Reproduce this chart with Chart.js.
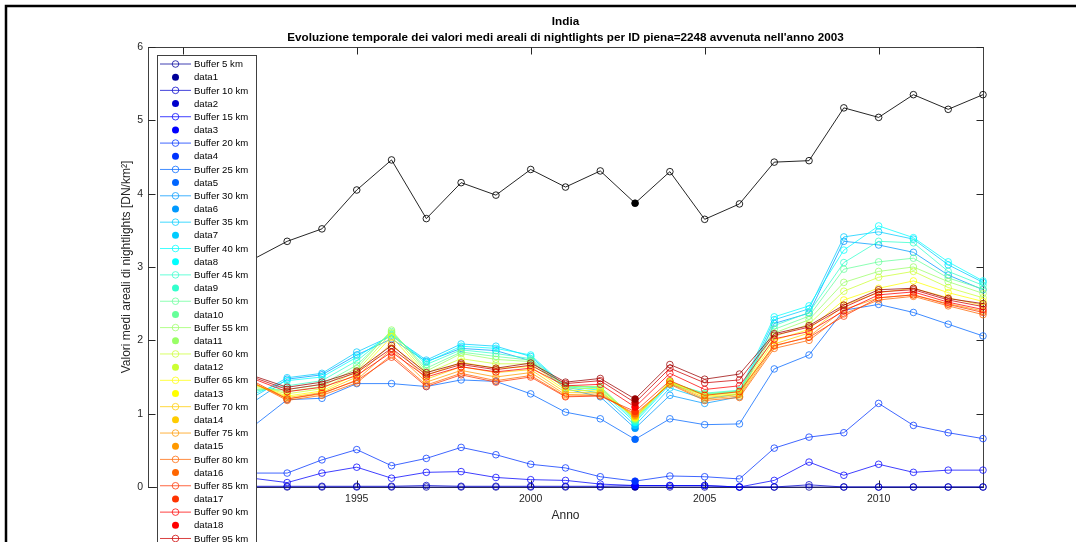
<!DOCTYPE html>
<html>
<head>
<meta charset="utf-8">
<title>India - nightlights</title>
<script src="https://cdn.jsdelivr.net/npm/chart.js@4.4.0/dist/chart.umd.min.js"></script>
<style>
  html, body { margin: 0; padding: 0; background: #fff; }
  #grafico { display: block; }
</style>
</head>
<body>
<canvas id="grafico" width="1076" height="542"></canvas>
<script>
// anni della serie e tick dell'asse x
const anni = [1992, 1993, 1994, 1995, 1996, 1997, 1998, 1999, 2000, 2001, 2002,
              2003, 2004, 2005, 2006, 2007, 2008, 2009, 2010, 2011, 2012, 2013];
const tickAnni = [1990, 1995, 2000, 2005, 2010];
const tickValori = [0, 1, 2, 3, 4, 5, 6];
const annoPiena = 2003;

// valori medi areali per buffer (DN/km2)
const buffer = [5, 10, 15, 20, 25, 30, 35, 40, 45, 50, 55, 60, 65, 70, 75, 80, 85, 90, 95, 100];
const buf5   = [0,0,0,0,0,0,0,0,0,0,0,0,0,0,0,0,0,0,0,0,0,0];
const buf10  = [0.01,0.01,0.01,0.01,0.01,0.02,0.01,0.01,0.01,0.01,0.01,0.02,0.02,0.02,0.00,0.00,0.03,0.00,0.00,0.00,0.00,0.00];
const buf15  = [0.12,0.06,0.19,0.27,0.12,0.20,0.21,0.13,0.10,0.09,0.04,0.02,0.02,0.02,0.00,0.09,0.34,0.16,0.31,0.20,0.23,0.23];
const buf20  = [0.19,0.19,0.37,0.51,0.29,0.39,0.54,0.44,0.31,0.26,0.14,0.08,0.15,0.14,0.11,0.53,0.68,0.74,1.14,0.84,0.74,0.66];
const buf25  = [0.82,1.19,1.21,1.41,1.41,1.37,1.46,1.44,1.27,1.02,0.93,0.65,0.93,0.85,0.86,1.61,1.80,2.41,2.49,2.38,2.22,2.06];
const buf30  = [1.15,1.47,1.53,1.80,2.02,1.71,1.89,1.86,1.72,1.34,1.23,0.80,1.25,1.14,1.23,2.23,2.37,3.35,3.30,3.20,2.89,2.69];
const buf35  = [1.22,1.49,1.55,1.84,2.06,1.73,1.95,1.92,1.78,1.36,1.28,0.84,1.35,1.20,1.27,2.28,2.43,3.41,3.48,3.38,3.03,2.79];
const buf40  = [1.26,1.45,1.50,1.77,2.08,1.70,1.92,1.89,1.80,1.37,1.32,0.88,1.40,1.26,1.31,2.32,2.47,3.23,3.56,3.40,3.07,2.81];
const buf45  = [1.30,1.38,1.45,1.72,2.10,1.67,1.87,1.82,1.75,1.38,1.35,0.90,1.42,1.28,1.32,2.20,2.38,3.06,3.35,3.33,2.94,2.75];
const buf50  = [1.33,1.33,1.40,1.66,2.12,1.62,1.84,1.78,1.73,1.38,1.36,0.92,1.43,1.27,1.31,2.15,2.33,2.97,3.07,3.12,2.85,2.70];
const buf55  = [1.36,1.30,1.37,1.62,2.14,1.58,1.82,1.74,1.71,1.37,1.37,0.93,1.44,1.26,1.30,2.10,2.28,2.79,2.94,3.00,2.80,2.64];
const buf60  = [1.39,1.27,1.34,1.58,2.10,1.55,1.75,1.68,1.68,1.35,1.34,0.94,1.44,1.25,1.29,2.05,2.22,2.67,2.86,2.94,2.72,2.58];
const buf65  = [1.41,1.24,1.31,1.54,2.05,1.52,1.70,1.62,1.64,1.32,1.31,0.95,1.43,1.24,1.27,2.00,2.15,2.55,2.71,2.81,2.65,2.53];
const buf70  = [1.42,1.22,1.29,1.50,1.96,1.47,1.64,1.56,1.60,1.29,1.29,0.96,1.42,1.22,1.26,1.95,2.10,2.48,2.65,2.71,2.58,2.48];
const buf75  = [1.42,1.20,1.27,1.46,1.88,1.43,1.59,1.50,1.56,1.26,1.27,0.98,1.41,1.20,1.24,1.92,2.05,2.42,2.58,2.62,2.50,2.40];
const buf80  = [1.43,1.18,1.25,1.42,1.80,1.39,1.55,1.45,1.52,1.24,1.25,1.00,1.40,1.18,1.22,1.89,2.00,2.36,2.55,2.60,2.47,2.35];
const buf85  = [1.45,1.20,1.28,1.45,1.77,1.37,1.53,1.43,1.50,1.23,1.24,1.03,1.45,1.25,1.30,1.93,2.04,2.33,2.58,2.62,2.49,2.38];
const buf90  = [1.48,1.30,1.36,1.52,1.84,1.50,1.64,1.57,1.62,1.38,1.40,1.09,1.55,1.33,1.38,2.02,2.12,2.40,2.62,2.66,2.52,2.42];
const buf95  = [1.50,1.33,1.40,1.56,1.89,1.53,1.67,1.60,1.66,1.41,1.45,1.15,1.62,1.42,1.46,2.07,2.18,2.45,2.66,2.69,2.55,2.46];
const buf100 = [1.52,1.36,1.43,1.58,1.93,1.56,1.69,1.62,1.69,1.43,1.48,1.20,1.67,1.47,1.54,2.09,2.20,2.48,2.69,2.71,2.57,2.50];
// area della piena
const areaPiena = [3.10,3.35,3.52,4.05,4.46,3.66,4.15,3.98,4.33,4.09,4.31,3.87,4.30,3.65,3.86,4.43,4.45,5.17,5.04,5.35,5.15,5.35];

const serieBuffer = [buf5, buf10, buf15, buf20, buf25, buf30, buf35, buf40, buf45, buf50,
                     buf55, buf60, buf65, buf70, buf75, buf80, buf85, buf90, buf95, buf100];

// colormap jet(20) come in MATLAB
const jet20 = [
  [0,0,.6],[0,0,.8],[0,0,1],[0,.2,1],[0,.4,1],[0,.6,1],[0,.8,1],[0,1,1],[.2,1,.8],[.4,1,.6],
  [.6,1,.4],[.8,1,.2],[1,1,0],[1,.8,0],[1,.6,0],[1,.4,0],[1,.2,0],[1,0,0],[.8,0,0],[.6,0,0]
];
function rgba(c, a) {
  return `rgba(${Math.round(c[0]*255)},${Math.round(c[1]*255)},${Math.round(c[2]*255)},${a})`;
}

const iPiena = anni.indexOf(annoPiena);

function linea(label, valori, col, alfa) {
  return {
    label: label,
    data: anni.map((a, i) => ({ x: a, y: valori[i] })),
    borderColor: rgba(col, alfa),
    backgroundColor: 'rgba(0,0,0,0)',
    pointBorderColor: rgba(col, alfa),
    pointBackgroundColor: 'rgba(0,0,0,0)',
    borderWidth: 1,
    pointRadius: 3.3,
    pointBorderWidth: 1,
    showLine: true,
    tension: 0,
    clip: false
  };
}
function puntoPiena(label, valori, col) {
  return {
    label: label,
    data: [{ x: annoPiena, y: valori[iPiena] }],
    borderColor: rgba(col, 1),
    backgroundColor: rgba(col, 1),
    pointBorderColor: rgba(col, 1),
    pointBackgroundColor: rgba(col, 1),
    pointRadius: 3.5,
    pointBorderWidth: 0,
    showLine: false,
    clip: false
  };
}

const datasets = [];
serieBuffer.forEach((valori, k) => {
  datasets.push(linea(`Buffer ${buffer[k]} km`, valori, jet20[k], 0.75));
  datasets.push(puntoPiena(`data${k + 1}`, valori, jet20[k]));
});
datasets.push(linea('Area piena', areaPiena, [0, 0, 0], 0.85));
datasets.push(puntoPiena(`data${buffer.length + 1}`, areaPiena, [0, 0, 0]));
// le serie disegnate dopo stanno sopra
datasets.forEach((d, i) => { d.order = datasets.length - i; });

// cornice, box degli assi con tick interni e legenda sopra il grafico
const stileMatlab = {
  id: 'stileMatlab',
  beforeDraw(chart) {
    const ctx = chart.ctx;
    ctx.save();
    ctx.fillStyle = '#fff';
    ctx.fillRect(0, 0, chart.width, chart.height);
    ctx.strokeStyle = '#000';
    ctx.lineWidth = 2.5;
    ctx.beginPath();
    ctx.moveTo(6, chart.height);
    ctx.lineTo(6, 6);
    ctx.lineTo(chart.width, 6);
    ctx.stroke();
    ctx.restore();
  },
  beforeDatasetsDraw(chart) {
    const ctx = chart.ctx;
    const { left, right, top, bottom } = chart.chartArea;
    const l = Math.round(left) + 0.5, r = Math.round(right) + 0.5;
    const t = Math.round(top) + 0.5, b = Math.round(bottom) + 0.5;
    ctx.save();
    ctx.strokeStyle = '#404040';
    ctx.lineWidth = 1;
    ctx.strokeRect(l, t, r - l, b - t);
    ctx.strokeStyle = '#262626';
    ctx.beginPath();
    chart.scales.x.ticks.forEach(tk => {
      const px = Math.round(chart.scales.x.getPixelForValue(tk.value)) + 0.5;
      ctx.moveTo(px, b); ctx.lineTo(px, b - 7);
      ctx.moveTo(px, t); ctx.lineTo(px, t + 7);
    });
    chart.scales.y.ticks.forEach(tk => {
      const py = Math.round(chart.scales.y.getPixelForValue(tk.value)) + 0.5;
      ctx.moveTo(l, py); ctx.lineTo(l + 7, py);
      ctx.moveTo(r, py); ctx.lineTo(r - 7, py);
    });
    ctx.stroke();
    ctx.restore();
  },
  afterDraw(chart) {
    const ctx = chart.ctx;
    const x0 = 157.5, y0 = 55.5, passo = 13.18;
    ctx.save();
    ctx.fillStyle = '#fff';
    ctx.fillRect(x0, y0, 99, chart.height);
    ctx.strokeStyle = '#404040';
    ctx.lineWidth = 1;
    ctx.strokeRect(x0, y0, 99, chart.height);
    ctx.font = '9.6px "Liberation Sans", Arial, sans-serif';
    ctx.textBaseline = 'middle';
    chart.data.datasets.forEach((d, i) => {
      const yy = 64 + i * passo;
      if (d.showLine) {
        ctx.strokeStyle = d.borderColor;
        ctx.beginPath();
        ctx.moveTo(160, yy); ctx.lineTo(191, yy);
        ctx.stroke();
        ctx.beginPath();
        ctx.arc(175.5, yy, 3.3, 0, Math.PI * 2);
        ctx.stroke();
      } else {
        ctx.fillStyle = d.backgroundColor;
        ctx.beginPath();
        ctx.arc(175.5, yy, 3.5, 0, Math.PI * 2);
        ctx.fill();
      }
      ctx.fillStyle = '#000';
      ctx.fillText(d.label, 194, yy + 0.5);
    });
    ctx.restore();
  }
};

Chart.defaults.font.family = '"Liberation Sans", Arial, sans-serif';
Chart.defaults.color = '#262626';

new Chart(document.getElementById('grafico'), {
  type: 'line',
  data: { datasets: datasets },
  plugins: [stileMatlab],
  options: {
    responsive: false,
    animation: false,
    devicePixelRatio: 1,
    events: [],
    layout: { padding: { left: 108, right: 93, top: 0, bottom: 0 } },
    plugins: {
      legend: { display: false },
      tooltip: { enabled: false },
      title: {
        display: true,
        fullSize: false,
        text: ['India', "Evoluzione temporale dei valori medi areali di nightlights per ID piena=2248 avvenuta nell'anno 2003"],
        color: '#000',
        font: { size: 11.7, weight: 'bold', lineHeight: 1.35 },
        padding: { top: 14, bottom: 1.4 }
      }
    },
    scales: {
      x: {
        type: 'linear',
        min: 1989,
        max: 2013,
        grid: { display: false, drawTicks: false },
        border: { display: false },
        afterBuildTicks: s => { s.ticks = tickAnni.map(v => ({ value: v })); },
        afterFit: s => { s.height = 55; },
        ticks: { padding: 6, font: { size: 10.5 }, callback: v => String(v) },
        title: {
          display: true,
          text: 'Anno',
          font: { size: 12 },
          padding: { top: 0, bottom: 19 }
        }
      },
      y: {
        min: 0,
        max: 6,
        grid: { display: false, drawTicks: false },
        border: { display: false },
        afterBuildTicks: s => { s.ticks = tickValori.map(v => ({ value: v })); },
        afterFit: s => { s.width = 40; },
        ticks: { padding: 5, font: { size: 10.5 }, callback: v => String(v) },
        title: {
          display: true,
          text: 'Valori medi areali di nightlights [DN/km²]',
          font: { size: 12 },
          padding: { top: 11, bottom: 0 }
        }
      }
    }
  }
});
</script>
</body>
</html>
